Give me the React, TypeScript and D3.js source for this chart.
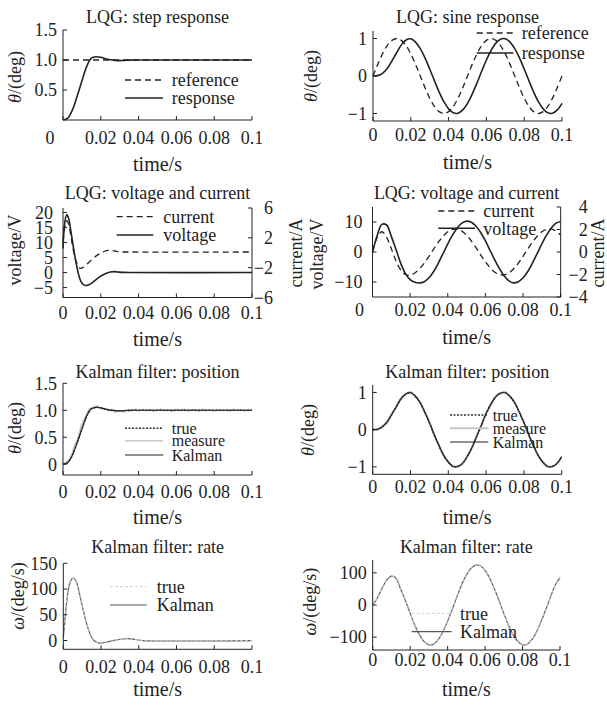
import React from 'react';
import * as d3 from 'd3';

// ---------- data ----------
const timeTicks = [0, 0.02, 0.04, 0.06, 0.08, 0.1];
const timeTickLabels = ['0', '0.02', '0.04', '0.06', '0.08', '0.1'];

// uniform sampling grid, 0 .. 0.1 s every 2.5 ms (41 samples)
const grid = d3.range(41).map((i) => i * 0.0025);
// 2 ms grid (51 samples) for the noisy step measurement
const grid2 = d3.range(51).map((i) => i * 0.002);

const stepRefT = [0, 0.1];
const stepRef = [1, 1];

const stepPos = [0, 0.03, 0.17, 0.4, 0.65, 0.89, 1.03, 1.055, 1.045, 1.02, 1.003, 0.993, 0.99, 0.994, 0.998,
  1, 1, 1, 1, 1, 1, 1, 1, 1, 1, 1, 1, 1, 1, 1, 1, 1, 1, 1, 1, 1, 1, 1, 1, 1, 1];

const sineRef = [0, 0.31, 0.59, 0.81, 0.95, 1.0, 0.95, 0.81, 0.59, 0.31, 0, -0.31, -0.59, -0.81, -0.95, -1.0,
  -0.95, -0.81, -0.59, -0.31, 0, 0.31, 0.59, 0.81, 0.95, 1.0, 0.95, 0.81, 0.59, 0.31, 0, -0.31, -0.59, -0.81,
  -0.95, -1.0, -0.95, -0.81, -0.59, -0.31, 0];

const sinePos = [0, 0.01, 0.07, 0.2, 0.4, 0.62, 0.83, 0.96, 0.992, 0.905, 0.729, 0.482, 0.187, -0.125, -0.426,
  -0.685, -0.876, -0.982, -0.992, -0.905, -0.729, -0.482, -0.187, 0.125, 0.426, 0.685, 0.876, 0.982, 0.992,
  0.905, 0.729, 0.482, 0.187, -0.125, -0.426, -0.685, -0.876, -0.982, -0.992, -0.905, -0.729];

const stepVoltT = [0, 0.001, 0.002, 0.003, 0.004, 0.005, 0.006, 0.007, 0.008, 0.009, 0.01, 0.011, 0.012, 0.013,
  0.015, 0.017, 0.019, 0.021, 0.023, 0.025, 0.027, 0.029, 0.032, 0.035, 0.1];
const stepVolt = [8, 17, 19.2, 18, 14.5, 10.5, 6.5, 3, 0, -2.2, -3.5, -4.1, -4.3, -4.2, -3.6, -2.6, -1.6, -0.8,
  -0.2, 0.2, 0.3, 0.2, 0.05, 0, 0];

const stepCurrT = [0, 0.001, 0.002, 0.003, 0.004, 0.005, 0.006, 0.007, 0.008, 0.009, 0.01, 0.012, 0.014, 0.016,
  0.018, 0.02, 0.022, 0.024, 0.026, 0.028, 0.03, 0.035, 0.1];
const stepCurr = [1.5, 3.5, 4.3, 3.8, 2.5, 1.0, -0.3, -1.2, -1.8, -2.1, -2.05, -1.7, -1.2, -0.75, -0.35, -0.05,
  0.2, 0.32, 0.3, 0.2, 0.12, 0.1, 0.1];

const sineVolt = [0, 5.5, 9.2, 9.0, 5.2, 0.8, -3.8, -7.2, -9.2, -10.1, -10.3, -9.9, -8.6, -6.5, -3.7, -0.5, 2.7,
  5.6, 8.0, 9.6, 10.3, 9.9, 8.6, 6.5, 3.7, 0.5, -2.7, -5.6, -8.0, -9.6, -10.3, -9.9, -8.6, -6.5, -3.7, -0.5, 2.7,
  5.6, 8.0, 9.6, 10.2];

const sineCurr = [0, 1.3, 1.8, 1.3, 0.3, -0.8, -1.6, -2.0, -2.07, -1.86, -1.49, -0.99, -0.38, 0.26, 0.87, 1.4,
  1.8, 2.01, 2.03, 1.86, 1.49, 0.99, 0.38, -0.26, -0.87, -1.4, -1.8, -2.01, -2.03, -1.86, -1.49, -0.99, -0.38,
  0.26, 0.87, 1.4, 1.8, 2.01, 2.03, 1.86, 1.49];

const stepMeasure = [0.01, 0.05, 0.12, 0.34, 0.5, 0.75, 0.88, 1.03, 1.04, 1.08, 1.03, 1.04, 0.99, 1.01, 0.97,
  0.99, 0.97, 1.0, 0.99, 1.02, 0.985, 1.01, 0.99, 1.015, 0.98, 1.005, 1.02, 0.99, 1.0, 0.98, 1.015, 0.995, 1.02,
  0.985, 1.0, 1.01, 0.98, 1.02, 0.99, 1.005, 0.985, 1.015, 0.99, 1.01, 0.98, 1.02, 0.995, 1.01, 0.985, 1.005, 1.0];

const sineMeasure = [0.02, -0.01, 0.1, 0.17, 0.43, 0.6, 0.86, 0.94, 1.02, 0.88, 0.75, 0.46, 0.21, -0.15, -0.4,
  -0.71, -0.85, -1.01, -0.97, -0.93, -0.7, -0.5, -0.16, 0.1, 0.45, 0.66, 0.9, 0.96, 1.02, 0.88, 0.75, 0.46, 0.21,
  -0.15, -0.4, -0.7, -0.86, -1.0, -0.98, -0.92, -0.71];

const stepRateT = [0, 0.001, 0.0025, 0.004, 0.0055, 0.007, 0.0085, 0.01, 0.0115, 0.013, 0.0145, 0.016, 0.0175,
  0.019, 0.021, 0.024, 0.027, 0.03, 0.033, 0.036, 0.039, 0.042, 0.1];
const stepRate = [5, 45, 95, 117, 121, 113, 92, 68, 45, 25, 10, 1, -3, -5, -4.5, -2, 0.5, 2.5, 3.5, 3.3, 1.5, 0, 0];

const sineRate = [0, 22, 52, 78, 90, 83, 48, 13, -26, -63, -93, -114, -124, -122, -108, -83, -50, -13, 26, 63, 93,
  114, 124, 122, 108, 83, 50, 13, -26, -63, -93, -114, -124, -122, -108, -83, -50, -13, 26, 63, 85];

// ---------- drawing ----------
const FONT = "'Liberation Serif', 'Times New Roman', serif";
const FS = 18;
const INK = '#222';

type Series = { t: number[]; v: number[]; right?: boolean; stroke: string; width: number; dash?: string };
type LegendRow = { y: number; label: string; s: number };
type PanelProps = {
  x0: number; x1: number; yTop: number; yBot: number;
  yDomain: [number, number]; yTicks: number[]; yFmt: (v: number) => string; yGap: number;
  yLabel: React.ReactNode; yLabelX: number; yLabelY: number;
  title: string; titleY: number; tickY: number; xLabelY: number; zeroDx?: number;
  right?: { domain: [number, number]; ticks: number[]; labelEnd: number; label: string; labelX: number; labelY: number };
  series: Series[];
  legend: { lx0: number; lx1: number; tx: number; fs?: number; rows: LegendRow[] };
};

function Panel(p: PanelProps) {
  const xs = d3.scaleLinear().domain([0, 0.1]).range([p.x0, p.x1]);
  const ys = d3.scaleLinear().domain(p.yDomain).range([p.yBot, p.yTop]);
  const ys2 = p.right ? d3.scaleLinear().domain(p.right.domain).range([p.yBot, p.yTop]) : ys;
  const cx = (p.x0 + p.x1) / 2;
  const paths = p.series.map((s) => {
    const sy = s.right ? ys2 : ys;
    const pts: [number, number][] = s.t.map((t, i) => [t, s.v[i]]);
    return d3.line<[number, number]>().x((d) => xs(d[0])).y((d) => sy(d[1])).curve(d3.curveCatmullRom.alpha(0.5))(pts) || '';
  });
  return (
    <g fontFamily={FONT} fontSize={FS} fill={INK} stroke="none">
      <text x={cx} y={p.titleY} textAnchor="middle">{p.title}</text>
      {paths.map((d, i) => (
        <path key={i} d={d} fill="none" stroke={p.series[i].stroke} strokeWidth={p.series[i].width}
          strokeDasharray={p.series[i].dash} />
      ))}
      {/* axes */}
      <line x1={p.x0} x2={p.x0} y1={p.yTop} y2={p.yBot} stroke={INK} strokeWidth={1} />
      <line x1={p.x0} x2={p.x1} y1={p.yBot} y2={p.yBot} stroke={INK} strokeWidth={1} />
      {p.right && <line x1={p.x1} x2={p.x1} y1={p.yTop} y2={p.yBot} stroke={INK} strokeWidth={1} />}
      {timeTicks.map((t, i) => (
        <g key={'xt' + i}>
          <line x1={xs(t)} x2={xs(t)} y1={p.yBot} y2={p.yBot - 4} stroke={INK} strokeWidth={1} />
          <text x={xs(t) + (i === 0 ? p.zeroDx || 0 : 0)} y={p.tickY} textAnchor="middle">{timeTickLabels[i]}</text>
        </g>
      ))}
      {p.yTicks.map((v, i) => (
        <g key={'yt' + i}>
          <line x1={p.x0} x2={p.x0 + 4} y1={ys(v)} y2={ys(v)} stroke={INK} strokeWidth={1} />
          <text x={p.x0 - p.yGap} y={ys(v)} dy="0.35em" textAnchor="end">{p.yFmt(v)}</text>
        </g>
      ))}
      {p.right && p.right.ticks.map((v, i) => (
        <g key={'rt' + i}>
          <line x1={p.x1} x2={p.x1 - 4} y1={ys2(v)} y2={ys2(v)} stroke={INK} strokeWidth={1} />
          <text x={p.x1 + p.right!.labelEnd} y={ys2(v)} dy="0.35em" textAnchor="end">{d3.format('d')(v)}</text>
        </g>
      ))}
      <text x={cx} y={p.xLabelY} textAnchor="middle" fontSize={20}>time/s</text>
      <text transform={`translate(${p.yLabelX},${p.yLabelY}) rotate(-90)`} textAnchor="middle" dy="0.35em">{p.yLabel}</text>
      {p.right && (
        <text transform={`translate(${p.right.labelX},${p.right.labelY}) rotate(-90)`} textAnchor="middle" dy="0.35em">{p.right.label}</text>
      )}
      {p.legend.rows.map((r, i) => {
        const s = p.series[r.s];
        return (
          <g key={'lg' + i}>
            <line x1={p.legend.lx0} x2={p.legend.lx1} y1={r.y} y2={r.y} stroke={s.stroke} strokeWidth={s.width} strokeDasharray={s.dash} />
            <text x={p.legend.tx} y={r.y} dy="0.35em" fontSize={p.legend.fs || FS}>{r.label}</text>
          </g>
        );
      })}
    </g>
  );
}

const f1 = d3.format('.1f');
const fStep = (v: number) => (v === 0 ? '0' : f1(v));
const fInt = d3.format('d');

const theta = (<><tspan fontStyle="italic">θ</tspan>/(deg)</>);
const omega = (<><tspan fontStyle="italic">ω</tspan>/(deg/s)</>);

const DASH = '6,4';
const LIGHT = '#c8c8c8';

export default function App() {
  return (
    <svg width={607} height={706} style={{ position: 'absolute', left: 0, top: 0, background: '#fff' }}>
      <rect width={607} height={706} fill="#fff" />
      <Panel x0={63} x1={252} yTop={30} yBot={120} yDomain={[0, 1.5]} yTicks={[0.5, 1, 1.5]} yFmt={f1} yGap={6}
        yLabel={theta} yLabelX={15} yLabelY={77} title="LQG: step response" titleY={23} tickY={144} xLabelY={171} zeroDx={-13}
        series={[
          { t: stepRefT, v: stepRef, stroke: INK, width: 1.3, dash: DASH },
          { t: grid, v: stepPos, stroke: INK, width: 1.6 },
        ]}
        legend={{ lx0: 125, lx1: 163, tx: 171.7, rows: [{ y: 80, label: 'reference', s: 0 }, { y: 98, label: 'response', s: 1 }] }} />
      <Panel x0={373} x1={562} yTop={31} yBot={121} yDomain={[-1.2, 1.2]} yTicks={[-1, 0, 1]} yFmt={fInt} yGap={6}
        yLabel={theta} yLabelX={311} yLabelY={76} title="LQG: sine response" titleY={23} tickY={141} xLabelY={169}
        series={[
          { t: grid, v: sineRef, stroke: INK, width: 1.3, dash: DASH },
          { t: grid, v: sinePos, stroke: INK, width: 1.6 },
        ]}
        legend={{ lx0: 476.7, lx1: 513.3, tx: 521.7, rows: [{ y: 33, label: 'reference', s: 0 }, { y: 53, label: 'response', s: 1 }] }} />
      <Panel x0={63} x1={252} yTop={208} yBot={297.5} yDomain={[-8.3, 21.5]} yTicks={[-5, 0, 5, 10, 15, 20]} yFmt={fInt} yGap={10}
        yLabel="voltage/V" yLabelX={15} yLabelY={250} title="LQG: voltage and current" titleY={199} tickY={319} xLabelY={346}
        right={{ domain: [-6, 6], ticks: [-6, -2, 2, 6], labelEnd: 21, label: 'current/A', labelX: 296, labelY: 253 }}
        series={[
          { t: stepCurrT, v: stepCurr, right: true, stroke: INK, width: 1.3, dash: DASH },
          { t: stepVoltT, v: stepVolt, stroke: INK, width: 1.6 },
        ]}
        legend={{ lx0: 116.7, lx1: 153.3, tx: 163.3, rows: [{ y: 216.7, label: 'current', s: 0 }, { y: 235, label: 'voltage', s: 1 }] }} />
      <Panel x0={372.5} x1={560.7} yTop={207} yBot={297} yDomain={[-15, 15]} yTicks={[-10, 0, 10]} yFmt={fInt} yGap={10}
        yLabel="voltage/V" yLabelX={316.7} yLabelY={254} title="LQG: voltage and current" titleY={199} tickY={316} xLabelY={344} zeroDx={-13}
        right={{ domain: [-4, 4], ticks: [-4, -2, 0, 2, 4], labelEnd: 27, label: 'current/A', labelX: 598, labelY: 253 }}
        series={[
          { t: grid, v: sineCurr, right: true, stroke: INK, width: 1.3, dash: DASH },
          { t: grid, v: sineVolt, stroke: INK, width: 1.6 },
        ]}
        legend={{ lx0: 438.3, lx1: 475, tx: 483.3, rows: [{ y: 211, label: 'current', s: 0 }, { y: 228.3, label: 'voltage', s: 1 }] }} />
      <Panel x0={63} x1={252} yTop={383.3} yBot={475} yDomain={[-0.2, 1.5]} yTicks={[0, 0.5, 1, 1.5]} yFmt={fStep} yGap={6}
        yLabel={theta} yLabelX={15} yLabelY={428} title="Kalman filter: position" titleY={378} tickY={497.7} xLabelY={524}
        series={[
          { t: grid2, v: stepMeasure, stroke: LIGHT, width: 1.5 },
          { t: grid, v: stepPos, stroke: INK, width: 1.2 },
          { t: grid, v: stepPos, stroke: '#333', width: 1.6, dash: '2,1.5' },
        ]}
        legend={{ lx0: 125, lx1: 163.3, tx: 171.7, fs: 16, rows: [{ y: 428.3, label: 'true', s: 2 }, { y: 440.7, label: 'measure', s: 0 }, { y: 455, label: 'Kalman', s: 1 }] }} />
      <Panel x0={372.7} x1={561.7} yTop={385} yBot={474.3} yDomain={[-1.2, 1.2]} yTicks={[-1, 0, 1]} yFmt={fInt} yGap={6}
        yLabel={theta} yLabelX={308} yLabelY={430} title="Kalman filter: position" titleY={378} tickY={492.7} xLabelY={524}
        series={[
          { t: grid, v: sineMeasure, stroke: LIGHT, width: 2 },
          { t: grid, v: sinePos, stroke: INK, width: 1.2 },
          { t: grid, v: sinePos, stroke: '#333', width: 1.6, dash: '2,1.5' },
        ]}
        legend={{ lx0: 450, lx1: 488.3, tx: 492.7, fs: 16, rows: [{ y: 415, label: 'true', s: 2 }, { y: 428.3, label: 'measure', s: 0 }, { y: 442, label: 'Kalman', s: 1 }] }} />
      <Panel x0={63.3} x1={252} yTop={563.3} yBot={649.3} yDomain={[-17, 150]} yTicks={[0, 50, 100, 150]} yFmt={fInt} yGap={6}
        yLabel={omega} yLabelX={18} yLabelY={596} title="Kalman filter: rate" titleY={552.7} tickY={672.7} xLabelY={696}
        series={[
          { t: stepRateT, v: stepRate, stroke: '#555', width: 1.2 },
          { t: stepRateT, v: stepRate, stroke: '#cfcfcf', width: 1, dash: '3,2' },
        ]}
        legend={{ lx0: 110, lx1: 146.7, tx: 156.7, rows: [{ y: 586.7, label: 'true', s: 1 }, { y: 605, label: 'Kalman', s: 0 }] }} />
      <Panel x0={372.7} x1={560} yTop={560} yBot={650} yDomain={[-140, 140]} yTicks={[-100, 0, 100]} yFmt={fInt} yGap={6}
        yLabel={omega} yLabelX={310} yLabelY={601.7} title="Kalman filter: rate" titleY={552.7} tickY={666} xLabelY={696}
        series={[
          { t: grid, v: sineRate, stroke: '#555', width: 1.2 },
          { t: grid, v: sineRate, stroke: '#cfcfcf', width: 1, dash: '3,2' },
        ]}
        legend={{ lx0: 411.7, lx1: 451.7, tx: 460, rows: [{ y: 613.3, label: 'true', s: 1 }, { y: 631.7, label: 'Kalman', s: 0 }] }} />
    </svg>
  );
}
